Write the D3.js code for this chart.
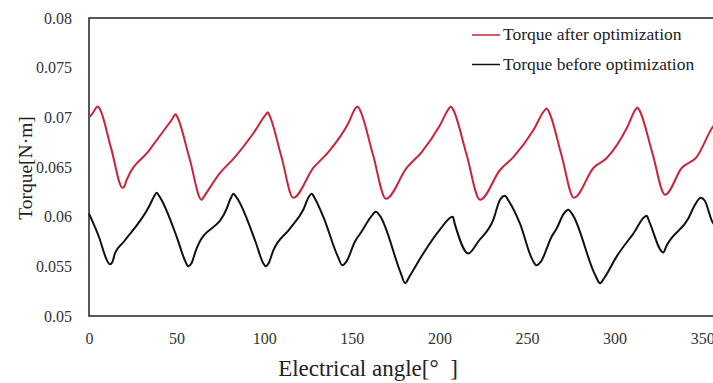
<!DOCTYPE html>
<html>
<head>
<meta charset="utf-8">
<script src="https://cdn.jsdelivr.net/npm/d3@7"></script>
<style>
  body { margin: 0; background: #fff; }
  svg { display: block; font-family: 'Liberation Serif', 'DejaVu Serif', serif; }
</style>
</head>
<body>
<svg id="area" width="713" height="383"></svg>
<script>
// angle [deg] / torque [N·m]
const afterAngle = [0, 2, 5, 6, 12.6, 19.2, 20, 21.5, 34, 47, 49.5, 50.5, 57.4, 64.3, 65.5, 74.8, 83.3, 93.8, 101, 102, 103,
  109.8, 116.6, 128, 136.6, 148, 152, 153.3, 154.5, 162, 169.5, 181.3, 189.9, 200.3, 205.5, 206.6, 207.8,
  215.5, 223.2, 234.6, 242.2, 253.6, 260, 261.2, 262.4, 269.6, 276.8, 287.9, 295.5, 306.9, 312, 313, 314.2,
  321.5, 328.8, 338.3, 346.8, 356.3, 360];
const afterTorque = [0.0700, 0.0704, 0.0711, 0.0709, 0.0669, 0.0629, 0.0630, 0.0637, 0.0666, 0.0697, 0.0703, 0.0700, 0.06585, 0.0617, 0.0620, 0.0644, 0.0660, 0.0684, 0.0703, 0.0705, 0.0702,
  0.06605, 0.0619, 0.0649, 0.0665, 0.0694, 0.0709, 0.0711, 0.0708, 0.0663, 0.0618, 0.0649, 0.0665, 0.0692, 0.0709, 0.0711, 0.0708,
  0.06625, 0.0617, 0.0647, 0.0660, 0.0687, 0.0707, 0.0709, 0.0706, 0.06625, 0.0619, 0.0649, 0.0659, 0.0689, 0.0708, 0.0710, 0.0707,
  0.06645, 0.0622, 0.0649, 0.0660, 0.0691, 0.0698];

const beforeAngle = [0, 6, 10, 12, 13.5, 14.8, 20, 34.8, 37, 38.6, 40, 50, 55, 56.7, 58.5, 61, 78.6, 81, 82.4, 84,
  95, 99.5, 101, 102.5, 105.2, 114.7, 122.3, 125.5, 127.1, 129, 133.7, 142, 144.6, 147, 151.8, 155.6,
  161, 163.8, 166, 178, 180.4, 183, 190.8, 200.3, 207.6, 208.9, 216.5, 222.2, 230.8, 234.6, 237.4, 239.5,
  246, 253, 255.5, 258, 264.1, 266.9, 271, 273.6, 276, 289, 291.7, 294, 301.2, 310.7, 318.3, 319.8,
  327.8, 329.7, 342, 345.9, 349.1, 351.5, 355.7, 360];
const beforeTorque = [0.0603, 0.0578, 0.0557, 0.0552, 0.0555, 0.0563, 0.0575, 0.0612, 0.0620, 0.0624, 0.0621, 0.0580, 0.0555, 0.0550, 0.0553, 0.0566, 0.0608, 0.0619, 0.0623, 0.0620,
  0.0575, 0.0553, 0.0550, 0.0553, 0.0566, 0.0588, 0.0607, 0.0620, 0.0623, 0.0618, 0.0600, 0.0560, 0.0551, 0.0555, 0.0575, 0.0585,
  0.0600, 0.0605, 0.0601, 0.0543, 0.0533, 0.0540, 0.0563, 0.0587, 0.0600, 0.0592, 0.0563, 0.0575, 0.0597, 0.0617, 0.0621, 0.0616,
  0.0593, 0.0557, 0.0551, 0.0555, 0.0580, 0.0588, 0.0603, 0.0607, 0.0602, 0.0541, 0.0533, 0.0538, 0.0560, 0.0583, 0.0601, 0.0595,
  0.0564, 0.0571, 0.0598, 0.0612, 0.0619, 0.0616, 0.0595, 0.0588];

const xTicks = [0, 50, 100, 150, 200, 250, 300, 350];
const yTicks = [0.05, 0.055, 0.06, 0.065, 0.07, 0.075, 0.08];
const seriesNames = ['Torque after optimization', 'Torque before optimization'];
const seriesColors = ['#c8253a', '#111111'];

const svg = d3.select('#area');
const margin = { top: 18, left: 89, bottom: 316 };

const x = d3.scaleLinear()
  .domain([0, 360])
  .range([margin.left, margin.left + 360 * 1.752]);
const y = d3.scaleLinear()
  .domain([0.05, 0.08])
  .range([margin.bottom, margin.top]);

// frame (right side runs out of the window)
svg.append('rect')
  .attr('x', x(0))
  .attr('y', y(0.08))
  .attr('width', x(360) - x(0))
  .attr('height', y(0.05) - y(0.08))
  .attr('fill', 'none')
  .attr('stroke', '#222')
  .attr('stroke-width', 1.5);

const xAxis = d3.axisBottom(x).tickValues(xTicks).tickSize(0).tickPadding(17);
const yAxis = d3.axisLeft(y).tickValues(yTicks).tickSize(0).tickPadding(17)
  .tickFormat((d) => String(+d.toFixed(3)));

svg.append('g')
  .attr('transform', `translate(0, ${y(0.05)})`)
  .call(xAxis)
  .call((g) => g.select('.domain').remove())
  .selectAll('text')
  .attr('font-size', 16)
  .attr('font-family', 'Liberation Serif')
  .attr('fill', '#333');

svg.append('g')
  .attr('transform', `translate(${x(0)}, 0)`)
  .call(yAxis)
  .call((g) => g.select('.domain').remove())
  .selectAll('text')
  .attr('font-size', 16)
  .attr('font-family', 'Liberation Serif')
  .attr('fill', '#333');

const line = d3.line()
  .x((d) => x(d[0]))
  .y((d) => y(d[1]))
  .curve(d3.curveMonotoneX);

const series = [
  d3.zip(afterAngle, afterTorque),
  d3.zip(beforeAngle, beforeTorque),
];

svg.selectAll('path.series')
  .data(series)
  .join('path')
  .attr('class', 'series')
  .attr('d', line)
  .attr('fill', 'none')
  .attr('stroke', (d, i) => seriesColors[i])
  .attr('stroke-width', 2)
  .attr('stroke-linejoin', 'round');

// legend
const legend = svg.append('g');
seriesNames.forEach((name, i) => {
  const ly = 35 + i * 29.5;
  legend.append('line')
    .attr('x1', 472).attr('x2', 500)
    .attr('y1', ly).attr('y2', ly)
    .attr('stroke', seriesColors[i])
    .attr('stroke-width', 1.5);
  legend.append('text')
    .attr('x', 503)
    .attr('y', ly + 5)
    .attr('font-size', 17.5)
    .attr('fill', '#222')
    .text(name);
});

// axis titles
svg.append('text')
  .attr('x', 368)
  .attr('y', 376)
  .attr('text-anchor', 'middle')
  .attr('font-size', 23)
  .attr('fill', '#222')
  .style('white-space', 'pre')
  .text('Electrical angle[°  ]');

svg.append('text')
  .attr('transform', 'translate(32, 168) rotate(-90)')
  .attr('text-anchor', 'middle')
  .attr('font-size', 19.5)
  .attr('fill', '#222')
  .text('Torque[N·m]');
</script>
</body>
</html>
